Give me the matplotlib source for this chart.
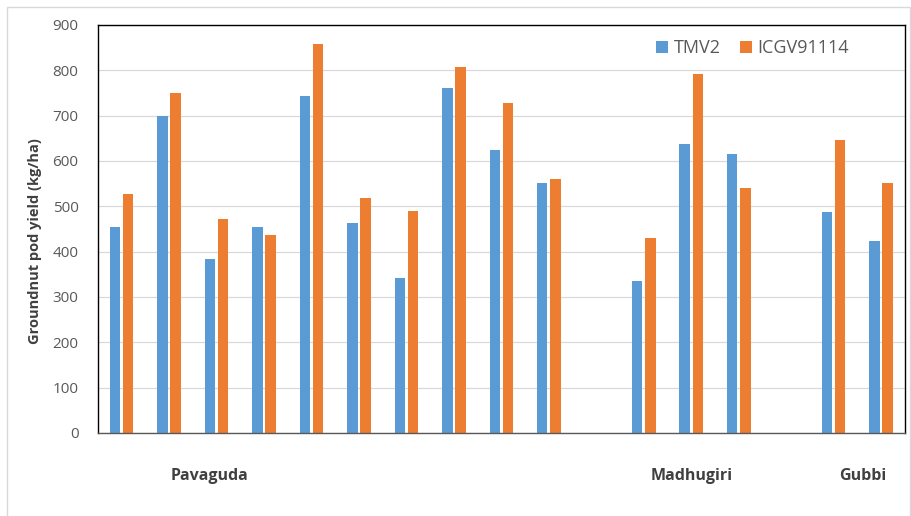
import matplotlib.pyplot as plt
from matplotlib.patches import Rectangle
import numpy as np

# one slot per farm; None marks the empty slots separating the taluks
tmv2 = [455, 699, 384, 454, 743, 463, 342, 761, 624, 552,
        None, 336, 638, 616, None, 488, 423]
icgv = [527, 749, 471, 437, 857, 518, 490, 807, 728, 560,
        None, 431, 793, 541, None, 646, 552]
taluks = ["Pavaguda", "Madhugiri", "Gubbi"]
taluk_pos = [1.85, 12.0, 15.6]

BLUE = "#5B9BD5"
ORANGE = "#ED7D31"
GREY = "#595959"

plt.rcParams["font.family"] = ["Open Sans", "DejaVu Sans"]

fig = plt.figure(figsize=(9.11, 5.16), dpi=100)
ax = fig.add_axes([98 / 911, 1 - 433 / 516, (905 - 98) / 911, (433 - 25) / 516])

# light chart-area border
fig.patches.append(Rectangle((7 / 911, -0.01), 903 / 911, 1 - 7 / 516 + 0.01,
                             transform=fig.transFigure, fill=False,
                             edgecolor="#d9d9d9", linewidth=1))

x = np.arange(len(tmv2))
w = 0.22
for i in x:
    if tmv2[i] is not None:
        ax.bar(i - 0.142, tmv2[i], width=w, color=BLUE,
               label="TMV2" if i == 0 else None)
    if icgv[i] is not None:
        ax.bar(i + 0.136, icgv[i], width=w, color=ORANGE,
               label="ICGV91114" if i == 0 else None)

ax.set_xlim(-0.5, len(tmv2) - 0.5)
ax.set_ylim(0, 900)
ax.set_yticks(range(0, 901, 100))
ax.tick_params(axis="y", length=0, pad=14, labelsize=11, labelcolor=GREY)
ax.set_xticks([])
ax.yaxis.grid(True, color="#d9d9d9", linewidth=0.9)
ax.set_axisbelow(True)
for s in ax.spines.values():
    s.set_color("black")
    s.set_linewidth(1.0)
ax.spines["bottom"].set_color("#595959")

ax.set_ylabel("Groundnut pod yield (kg/ha)", fontsize=10.5, fontweight="bold",
              color="#404040")
ax.yaxis.set_label_coords(-0.069, 0.47)

for name, pos in zip(taluks, taluk_pos):
    ax.text(pos, -0.105, name, transform=ax.get_xaxis_transform(),
            ha="center", va="center", fontsize=11.5, fontweight="bold",
            color="#404040")

ax.legend(loc="upper right", bbox_to_anchor=(0.951, 1.005), ncol=2, frameon=False,
          fontsize=13, labelcolor=GREY, handlelength=0.65, handleheight=0.65,
          handletextpad=0.3, columnspacing=1.1)

fig.savefig("out.png", dpi=100)
